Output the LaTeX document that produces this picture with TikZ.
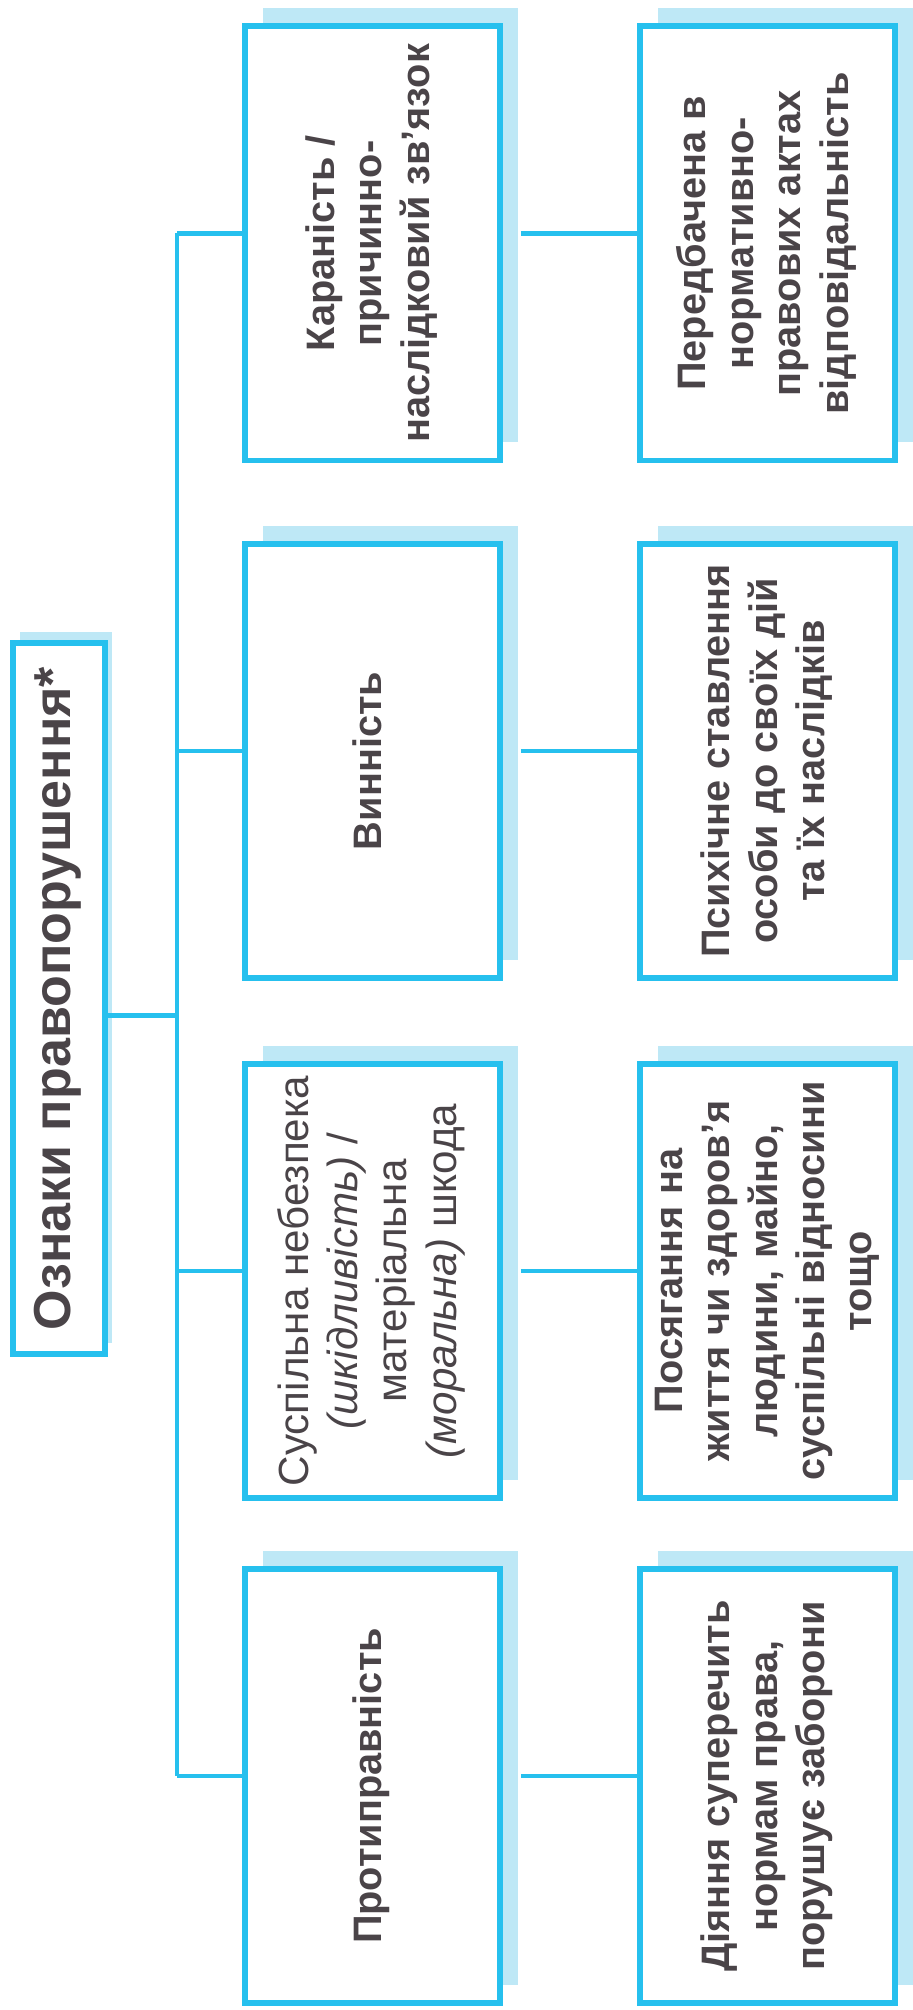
\documentclass[tikz,border=0pt]{standalone}
\usepackage{fontspec}
\setmainfont{Liberation Sans}
\usepackage{graphicx}
\usetikzlibrary{shadows}

\definecolor{frame}{RGB}{38,192,238}
\definecolor{shade}{RGB}{190,232,246}
\definecolor{ink}{RGB}{74,68,72}

% text turned to read from bottom to top
\newcommand{\vtext}[1]{\rotatebox{90}{\begin{tabular}{@{}c@{}}#1\end{tabular}}}

\begin{document}
\begin{tikzpicture}[
		card/.style={draw=frame,line width=1.7pt,fill=white,text=ink,inner sep=0pt,minimum width=2.55cm,minimum height=4.34cm,
			drop shadow={shadow xshift=.18cm,shadow yshift=.18cm,fill=shade,opacity=1}},
		boldtext/.style={font=\fontsize{11.3}{13.5}\selectfont\bfseries},
		plaintext/.style={font=\fontsize{12}{14}\selectfont},
		link/.style={draw=frame,line width=1.3pt}]
		\useasboundingbox (0,0) rectangle (9.12,-20.10);
		% title
		\node[draw=frame,line width=1.7pt,fill=white,text=ink,inner sep=0pt,minimum width=.92cm,minimum height=7.11cm,
			drop shadow={shadow xshift=.07cm,shadow yshift=.11cm,fill=shade,opacity=1},
			font=\fontsize{14.8}{17}\selectfont\bfseries] (title) at (.59,-9.985) {\vtext{Ознаки правопорушення*}};
		% features
		\node[card,boldtext] (f1) at (3.725,-2.435) {\vtext{Караність /\\причинно-\\наслідковий зв’язок}};
		\node[card,boldtext] (f2) at (3.725,-7.61) {\vtext{Винність}};
		\node[card,plaintext] (f3) at (3.725,-12.81) {\vtext{Суспільна небезпека\\\textit{(шкідливість)} /\\матеріальна\\\textit{(моральна)} шкода}};
		\node[card,boldtext] (f4) at (3.725,-17.86) {\vtext{Протиправність}};
		% meanings
		\node[card,boldtext] (m1) at (7.675,-2.435) {\vtext{Передбачена в\\нормативно-\\правових актах\\відповідальність}};
		\node[card,boldtext] (m2) at (7.675,-7.61) {\vtext{Психічне ставлення\\особи до своїх дій\\та їх наслідків}};
		\node[card,boldtext] (m3) at (7.675,-12.81) {\vtext{Посягання на\\життя чи здоров’я\\людини, майно,\\суспільні відносини\\тощо}};
		\node[card,boldtext] (m4) at (7.675,-17.86) {\vtext{Діяння суперечить\\нормам права,\\порушує заборони}};
		% connectors
		\coordinate (trunk) at (1.77,0);
		\draw[link] ([yshift=-.17cm]title.east) -- ([yshift=-.17cm]title.east -| trunk);
		\draw[link] ([yshift=.1cm]f1.west -| trunk) -- ([yshift=.1cm]f4.west -| trunk);
		\foreach \i in {1,...,4} {
			\draw[link] ([yshift=.1cm]f\i.west -| trunk) -- ([yshift=.1cm]f\i.west);
			\draw[link] ([shift={(.18,.1)}]f\i.east) -- ([yshift=.1cm]m\i.west);
		}
	\end{tikzpicture}
\end{document}
